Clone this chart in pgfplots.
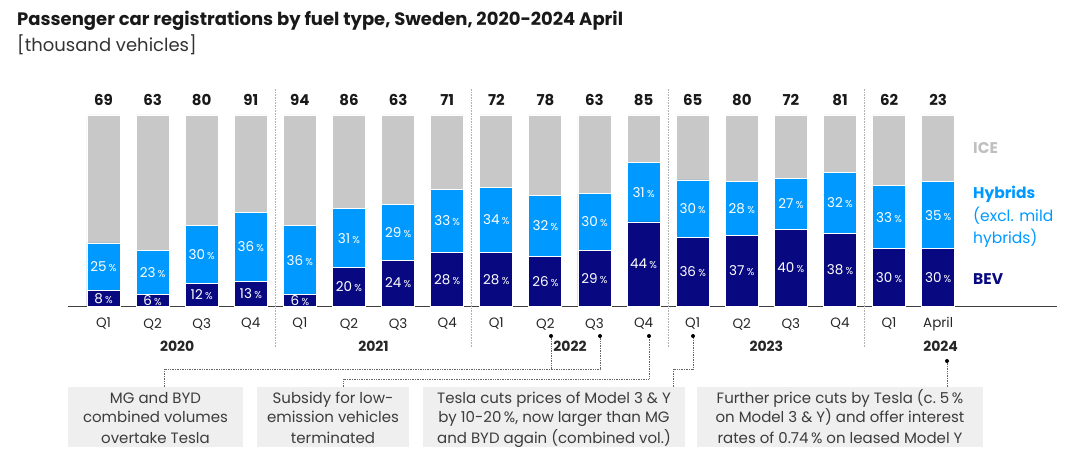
\documentclass[border=0pt]{standalone}
\usepackage{pgfplots}
\pgfplotsset{compat=1.18}
\usepackage{pgfplotstable}
\usepackage{fontspec}
\setmainfont{Poppins}

\definecolor{bev}{RGB}{8,8,128}
\definecolor{hyb}{RGB}{0,153,255}
\definecolor{ice}{RGB}{200,200,200}
\definecolor{note}{RGB}{239,239,239}
\definecolor{txt}{RGB}{60,60,60}

% shares in %, total in thousand vehicles
\pgfplotstableread{
x  bev hyb ice total
0   8  25  67  69
1   6  23  71  63
2  12  30  58  80
3  13  36  51  91
4   6  36  58  94
5  20  31  49  86
6  24  29  47  63
7  28  33  39  71
8  28  34  38  72
9  26  32  42  78
10 29  30  41  63
11 44  31  25  85
12 36  30  34  65
13 37  28  35  80
14 40  27  33  72
15 38  32  30  81
16 30  33  37  62
17 30  35  35  23
}\regs

\newcommand{\fs}[1]{\fontsize{#1}{#1}\selectfont}
% grey note box: x1, x2, three lines
\newcommand{\notebox}[5]{%
  \fill[note] (#1,387) rectangle (#2,447);
  \node[anchor=base, inner sep=0pt, font=\fs{15}, text=txt] at ({(#1+#2)/2},403) {#3};
  \node[anchor=base, inner sep=0pt, font=\fs{15}, text=txt] at ({(#1+#2)/2},423) {#4};
  \node[anchor=base, inner sep=0pt, font=\fs{15}, text=txt] at ({(#1+#2)/2},443) {#5};
}

\begin{document}
\begin{tikzpicture}
\path[use as bounding box] (0pt,0pt) rectangle (1077pt,-462pt);

\pgfplotsset{
  frame/.style={
    at={(68pt,-306pt)}, anchor=south west,
    scale only axis, width=989pt, height=191pt,
    xmin=-0.723, xmax=19.42, ymin=0, ymax=100,
  },
}

\begin{axis}[
    frame,
    ybar stacked, bar width=33pt,
    axis x line*=bottom, axis y line=none,
    x axis line style={draw=black!75, line width=1pt},
    xtick={0,...,17},
    xticklabels={Q1,Q2,Q3,Q4,Q1,Q2,Q3,Q4,Q1,Q2,Q3,Q4,Q1,Q2,Q3,Q4,Q1,April},
    major tick length=0pt,
    xticklabel style={anchor=center, yshift=-18pt, font=\fs{13.5}, text=black!85},
    clip=false,
]
\addplot[fill=bev, draw=white, line width=0.8pt] table[x=x, y=bev] {\regs};
\addplot[fill=hyb, draw=white, line width=0.8pt] table[x=x, y=hyb] {\regs};
\addplot[fill=ice, draw=white, line width=0.8pt] table[x=x, y=ice] {\regs};

\pgfplotsinvokeforeach{3.5,7.5,11.5,15.5}{
  \draw[densely dotted, black!30, line width=0.6pt] (axis cs:#1,-21.5) -- (axis cs:#1,114);
}

\node[font=\fs{14}\bfseries, text=black!85] at (axis cs:1.5,0)  [yshift=-40pt] {2020};
\node[font=\fs{14}\bfseries, text=black!85] at (axis cs:5.5,0)  [yshift=-40pt] {2021};
\node[font=\fs{14}\bfseries, text=black!85] at (axis cs:9.5,0)  [yshift=-40pt] {2022};
\node[font=\fs{14}\bfseries, text=black!85] at (axis cs:13.5,0) [yshift=-40pt] {2023};
\node[font=\fs{14}\bfseries, text=black!85] at (axis cs:17.05,0) [yshift=-40pt] {2024};
\end{axis}

\begin{axis}[frame, hide axis, clip=false,
    nodes near coords align={center}]
\addplot[draw=none, mark=none, point meta=explicit symbolic,
    nodes near coords={\pgfplotspointmeta\,{\fs{10}\%}},
    every node near coord/.style={anchor=center, text=white, font=\fs{13.5}}]
  table[x=x, y expr=\thisrow{bev}/2, meta=bev] {\regs};
\addplot[draw=none, mark=none, point meta=explicit symbolic,
    nodes near coords={\pgfplotspointmeta\,{\fs{10}\%}},
    every node near coord/.style={anchor=center, text=white, font=\fs{13.5}}]
  table[x=x, y expr=\thisrow{bev}+\thisrow{hyb}/2, meta=hyb] {\regs};
\addplot[draw=none, mark=none, point meta=explicit symbolic,
    nodes near coords={\pgfplotspointmeta},
    every node near coord/.style={anchor=center, yshift=15pt, text=black!90, font=\fs{15}\bfseries}]
  table[x=x, y expr=100, meta=total] {\regs};
\end{axis}

\begin{scope}[x=1pt, y=-1pt]
  % title
  \node[anchor=west, font=\fs{18}\bfseries, text=black!90, inner sep=0] at (17,21)
    {Passenger car registrations by fuel type, Sweden, 2020-2024 April};
  \node[anchor=west, font=\fs{18}, text=black!80, inner sep=0] at (17,45)
    {[thousand vehicles]};

  % legend
  \node[anchor=west, inner sep=0, font=\fs{15.5}\bfseries, text=black!25] at (973,148) {ICE};
  \node[anchor=west, inner sep=0, font=\fs{15.5}\bfseries, text=hyb] at (973,194) {Hybrids};
  \node[anchor=west, inner sep=0, font=\fs{15.5}, text=hyb] at (973,216) {(excl. mild};
  \node[anchor=west, inner sep=0, font=\fs{15.5}, text=hyb] at (973,238) {hybrids)};
  \node[anchor=west, inner sep=0, font=\fs{15.5}\bfseries, text=bev] at (973,279) {BEV};

  % connectors
  \begin{scope}[densely dotted, black!60, line width=0.7pt]
    \draw (164,387) -- (164,369) -- (600,369) -- (600,336);
    \draw (551,336) -- (551,369);
    \draw (343,387) -- (343,379) -- (649,379) -- (649,336);
    \draw (673,387) -- (673,369) -- (693,369) -- (693,336);
    \draw (947,361) -- (947,387);
  \end{scope}
  \foreach \px/\py in {551/336,600/336,649/336,693/336,947/361}
    \fill[black] (\px,\py) circle (2pt);

  % notes
  \notebox{68}{243}{MG and BYD}{combined volumes}{overtake Tesla}
  \notebox{257}{409}{Subsidy for low-}{emission vehicles}{terminated}
  \notebox{423}{685}{Tesla cuts prices of Model 3 \& Y}{by 10-20\,\%, now larger than MG}{and BYD again (combined vol.)}
  \notebox{697}{983}{Further price cuts by Tesla (c.\ 5\,\%}{on Model 3 \& Y) and offer interest}{rates of 0.74\,\% on leased Model Y}
\end{scope}
\end{tikzpicture}
\end{document}
